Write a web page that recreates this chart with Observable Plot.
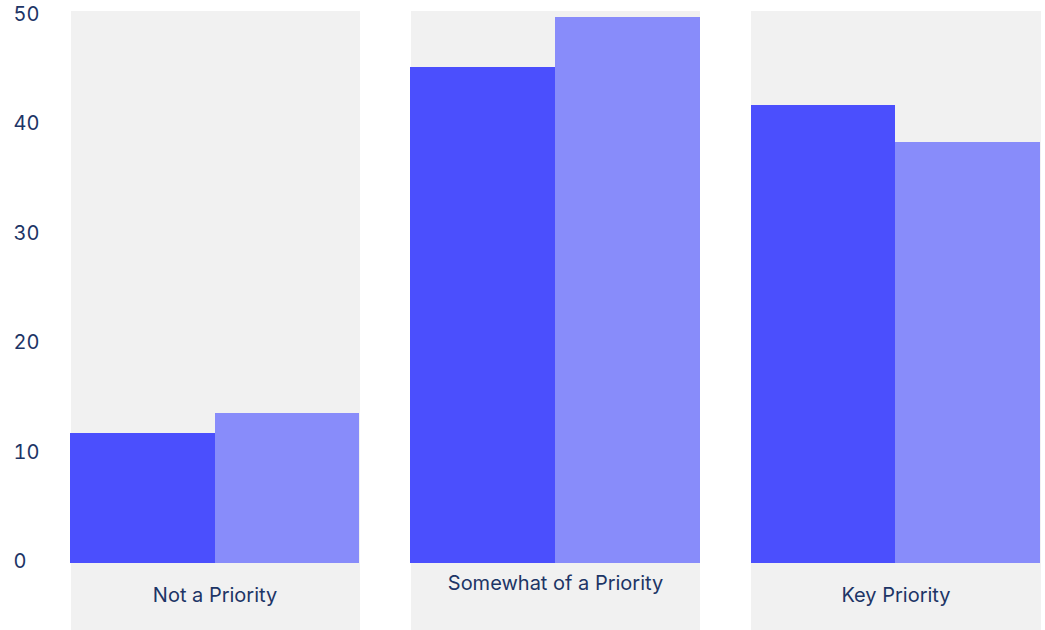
<!DOCTYPE html>
<html>
<head>
<meta charset="utf-8">
<script src="https://cdn.jsdelivr.net/npm/d3@7"></script>
<script src="https://cdn.jsdelivr.net/npm/@observablehq/plot@0.6"></script>
<style>
  html, body { margin: 0; padding: 0; background: #ffffff; }
  #chart { width: 1045px; height: 630px; overflow: hidden; }
</style>
</head>
<body>
<div id="chart"></div>
<script>
const categories = ["Not a Priority", "Somewhat of a Priority", "Key Priority"];
const seriesNames = ["Series 1", "Series 2"];
const series1 = [11.9, 45.3, 41.8];
const series2 = [13.7, 49.9, 38.4];
const yTicks = [0, 10, 20, 30, 40, 50];

const data = [];
categories.forEach((c, i) => {
  data.push({category: c, series: seriesNames[0], value: series1[i]});
  data.push({category: c, series: seriesNames[1], value: series2[i]});
});

const textColor = "#1d3566";
const font = "Inter, 'Noto Sans', sans-serif";

const chart = Plot.plot({
  width: 1045,
  height: 630,
  marginLeft: 70,
  marginRight: 5,
  marginTop: 10,
  marginBottom: 0,
  style: {fontFamily: font, background: "transparent"},
  fx: {domain: categories, paddingInner: 0.151, paddingOuter: 0, round: false, axis: null},
  x: {domain: seriesNames, padding: 0, round: false, axis: null},
  y: {domain: [-6.12, 50.5], axis: null},
  color: {domain: seriesNames, range: ["#4b4ffd", "#888cfa"]},
  marks: [
    Plot.frame({fill: "#f1f1f1", stroke: null, shapeRendering: "crispEdges"}),
    Plot.barY(data, {fx: "category", x: "series", y: "value", fill: "series", shapeRendering: "crispEdges"}),
    Plot.axisY(yTicks, {
      anchor: "left", tickSize: 0, tickPadding: 0, textAnchor: "start", dx: -57, dy: -1.5,
      fontSize: 20, fill: textColor, label: null
    }),
    Plot.text(categories.filter(c => c !== "Somewhat of a Priority"), {
      fx: d => d, text: d => d, frameAnchor: "bottom", dy: -35,
      fontSize: 20, fill: textColor, lineAnchor: "middle"
    }),
    Plot.text(categories.filter(c => c === "Somewhat of a Priority"), {
      fx: d => d, text: d => d, frameAnchor: "bottom", dy: -47,
      fontSize: 20, fill: textColor, lineAnchor: "middle"
    })
  ]
});
document.getElementById("chart").appendChild(chart);
</script>
</body>
</html>
